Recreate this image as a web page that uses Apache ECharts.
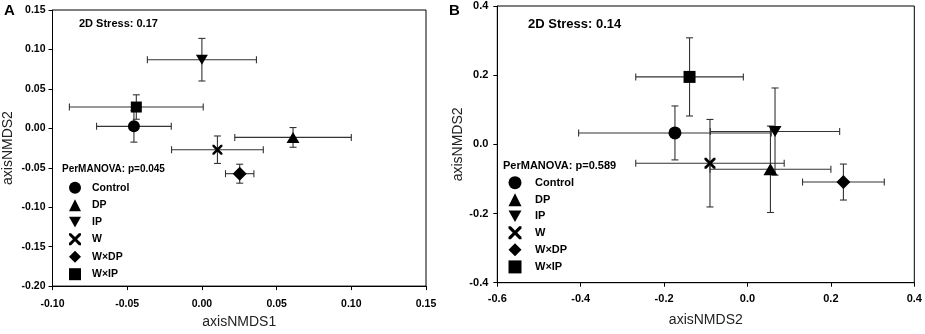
<!DOCTYPE html>
<html>
<head>
<meta charset="utf-8">
<script src="https://cdn.jsdelivr.net/npm/echarts@6/dist/echarts.min.js"></script>
<style>
html, body { margin: 0; padding: 0; background: #fff; }
#chart { width: 925px; height: 334px; }
</style>
</head>
<body>
<div id="chart"></div>
<script>
//处理组
var groups = ['Control', 'DP', 'IP', 'W', 'W×DP', 'W×IP'];

//A: NMDS 坐标和标准误
var aX = [-0.0455, 0.061, 0.000, 0.0104, 0.0253, -0.0439];
var aY = [0.0025, -0.0115, 0.087, -0.0271, -0.0575, 0.027];
var aXse = [0.025, 0.039, 0.0365, 0.0307, 0.0095, 0.0448];
var aYse = [0.020, 0.0125, 0.027, 0.0174, 0.012, 0.0155];
var aStress = '0.17';
var aP = '0.045';

//B: NMDS 坐标和标准误
var bX = [-0.174, 0.055, 0.066, -0.090, 0.230, -0.139];
var bY = [0.033, -0.072, 0.037, -0.0545, -0.109, 0.195];
var bXse = [0.231, 0.145, 0.155, 0.178, 0.098, 0.129];
var bYse = [0.078, 0.125, 0.126, 0.1265, 0.052, 0.113];
var bStress = '0.14';
var bP = '0.589';

var FONT = '"Liberation Sans", Arial, sans-serif';

//每组的符号
var symbols = [
	'circle',
	'triangle',
	'path://M0,0 L10,0 L5,9 Z',
	'path://M0,0 L3.5,0 L10,6.5 L16.5,0 L20,0 L20,3.5 L13.5,10 L20,16.5 L20,20 L16.5,20 L10,13.5 L3.5,20 L0,20 L0,16.5 L6.5,10 L0,3.5 Z',
	'diamond',
	'rect'
];
var sizesA = [12, [13, 11], [12, 10], 10, 14, 11];
var sizesB = [13, [14, 12], [13, 11], 11, 14, 12];

//误差线
var renderErrorBars = function(params, api) {
	var x = api.value(0), y = api.value(1);
	var xs = api.value(2), ys = api.value(3);
	var l = api.coord([x - xs, y]), r = api.coord([x + xs, y]);
	var b = api.coord([x, y - ys]), t = api.coord([x, y + ys]);
	var c = 3.5;
	var st = { stroke: '#333', lineWidth: 1.1 };
	var seg = function(x1, y1, x2, y2) {
		return { type: 'line', shape: { x1: x1, y1: y1, x2: x2, y2: y2 }, style: st };
	};
	return {
		type: 'group',
		children: [
			seg(l[0], l[1], r[0], r[1]),
			seg(l[0], l[1] - c, l[0], l[1] + c),
			seg(r[0], r[1] - c, r[0], r[1] + c),
			seg(b[0], b[1], t[0], t[1]),
			seg(b[0] - c, b[1], b[0] + c, b[1]),
			seg(t[0] - c, t[1], t[0] + c, t[1])
		]
	};
};

var makeAxis = function(idx, min, max, interval, digits, name, nameGap, labelSize, margin) {
	return {
		type: 'value',
		gridIndex: idx,
		min: min,
		max: max,
		interval: interval,
		name: name,
		nameLocation: 'middle',
		nameGap: nameGap,
		nameTextStyle: { fontFamily: FONT, fontSize: 14, color: '#222' },
		axisLine: { show: true, onZero: false, lineStyle: { color: '#000', width: 1 } },
		axisTick: { show: true, inside: false, length: 4, lineStyle: { color: '#000' } },
		splitLine: { show: false },
		axisLabel: {
			fontFamily: FONT,
			fontSize: labelSize,
			fontWeight: 'bold',
			color: '#000',
			margin: margin,
			formatter: function(v) { return v.toFixed(digits); }
		}
	};
};

var series = [];
var buildPanel = function(idx, xs, ys, xse, yse, sizes) {
	var rows = [];
	for (var i = 0; i < groups.length; i++) {
		rows.push([xs[i], ys[i], xse[i], yse[i]]);
	}
	series.push({
		type: 'custom',
		xAxisIndex: idx,
		yAxisIndex: idx,
		renderItem: renderErrorBars,
		encode: { x: 0, y: 1 },
		data: rows,
		silent: true,
		z: 1
	});
	for (var j = 0; j < groups.length; j++) {
		series.push({
			name: groups[j],
			type: 'scatter',
			xAxisIndex: idx,
			yAxisIndex: idx,
			symbol: symbols[j],
			symbolSize: sizes[j],
			itemStyle: { color: '#000', opacity: 1 },
			data: [[xs[j], ys[j]]],
			z: 3
		});
	}
};
buildPanel(0, aX, aY, aXse, aYse, sizesA);
buildPanel(1, bX, bY, bXse, bYse, sizesB);

var chart = echarts.init(document.getElementById('chart'));
chart.setOption({
	animation: false,
	backgroundColor: '#fff',
	grid: [
		{ left: 52.5, top: 10, width: 373.5, height: 277.3, show: true, borderColor: '#000', borderWidth: 1 },
		{ left: 497.3, top: 6, width: 417, height: 276.7, show: true, borderColor: '#000', borderWidth: 1 }
	],
	xAxis: [
		makeAxis(0, -0.1, 0.15, 0.05, 2, 'axisNMDS1', 26, 10.5, 13),
		makeAxis(1, -0.6, 0.4, 0.2, 1, 'axisNMDS2', 30, 11, 11)
	],
	yAxis: [
		makeAxis(0, -0.2, 0.15, 0.05, 2, 'axisNMDS2', 37, 10.5, 7),
		makeAxis(1, -0.4, 0.4, 0.2, 1, 'axisNMDS2', 29, 11, 9)
	],
	legend: [{
		orient: 'vertical',
		left: 69,
		top: 181.7,
		padding: 0,
		itemWidth: 12,
		itemHeight: 12,
		itemGap: 5.5,
		selectedMode: false,
		data: groups,
		textStyle: { fontFamily: FONT, fontSize: 10.5, fontWeight: 'bold', color: '#000', padding: [0, 0, 0, 6] }
	}, {
		orient: 'vertical',
		left: 508.5,
		top: 176.2,
		padding: 0,
		itemWidth: 13,
		itemHeight: 13,
		itemGap: 4.1,
		selectedMode: false,
		data: groups,
		textStyle: { fontFamily: FONT, fontSize: 11, fontWeight: 'bold', color: '#000', padding: [0, 0, 0, 8.5] }
	}],
	graphic: [
		{ type: 'text', left: 4, top: 3, style: { text: 'A', font: 'bold 15px ' + FONT, fill: '#000' } },
		{ type: 'text', left: 449, top: 3, style: { text: 'B', font: 'bold 15px ' + FONT, fill: '#000' } },
		{ type: 'text', left: 79, top: 18, style: { text: '2D Stress: ' + aStress, font: 'bold 11px ' + FONT, fill: '#000' } },
		{ type: 'text', left: 528, top: 18, style: { text: '2D Stress: ' + bStress, font: 'bold 13px ' + FONT, fill: '#000' } },
		{ type: 'text', left: 62, top: 164, style: { text: 'PerMANOVA: p=' + aP, font: 'bold 10px ' + FONT, fill: '#000' } },
		{ type: 'text', left: 503, top: 160.5, style: { text: 'PerMANOVA: p=' + bP, font: 'bold 11px ' + FONT, fill: '#000' } }
	],
	series: series
});
</script>
</body>
</html>
